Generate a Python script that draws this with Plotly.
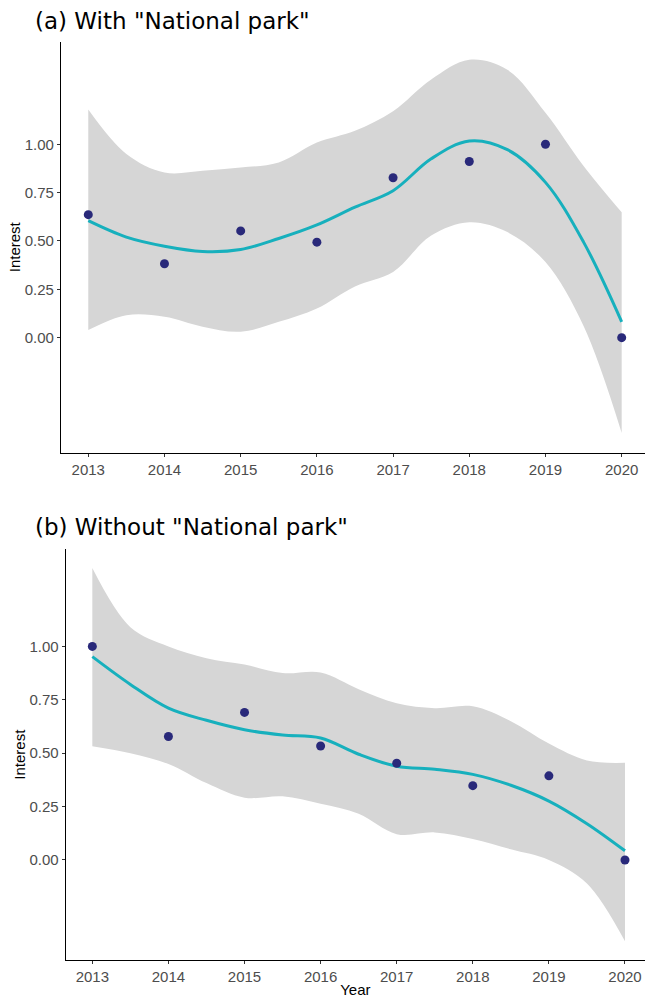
import plotly.graph_objects as go

# ---------------- data ----------------
years = [2013, 2014, 2015, 2016, 2017, 2018, 2019, 2020]
smooth_x = [2013, 2013.5, 2014, 2014.5, 2015, 2015.5, 2016, 2016.5,
            2017, 2017.5, 2018, 2018.5, 2019, 2019.5, 2020]

# (a) With "National park"
a_points = [0.636, 0.382, 0.552, 0.494, 0.827, 0.911, 1.0, 0.0]
a_fit = [0.605, 0.52, 0.473, 0.446, 0.456, 0.513, 0.583, 0.675,
         0.76, 0.925, 1.017, 0.972, 0.803, 0.494, 0.082]
a_upper = [1.18, 0.95, 0.854, 0.863, 0.88, 0.906, 1.009, 1.07,
           1.171, 1.335, 1.437, 1.385, 1.163, 0.888, 0.648]
a_lower = [0.039, 0.116, 0.108, 0.057, 0.031, 0.082, 0.151, 0.265,
           0.34, 0.528, 0.597, 0.546, 0.391, 0.06, -0.493]

# (b) Without "National park"
b_points = [1.0, 0.578, 0.691, 0.534, 0.453, 0.348, 0.394, 0.0]
b_fit = [0.952, 0.822, 0.711, 0.654, 0.610, 0.585, 0.571, 0.495,
         0.439, 0.425, 0.401, 0.35, 0.276, 0.17, 0.043]
b_upper = [1.367, 1.09, 1.0, 0.945, 0.915, 0.875, 0.878, 0.80,
           0.734, 0.711, 0.72, 0.65, 0.545, 0.466, 0.455]
b_lower = [0.533, 0.50, 0.45, 0.36, 0.292, 0.298, 0.263, 0.216,
           0.121, 0.129, 0.098, 0.05, 0.0, -0.11, -0.381]

y_ticks = [0, 0.25, 0.5, 0.75, 1.0]
y_ticktext = ["0.00", "0.25", "0.50", "0.75", "1.00"]
titles = ['(a) With "National park"', '(b) Without "National park"']

# ---------------- style ----------------
W, H = 645, 998
RIBBON = "#d6d6d6"
LINE = "#17b0bd"
POINT = "#29297a"

fig = go.Figure()


def add_panel(fig, xa, ya, points, fit, upper, lower):
    fig.add_trace(go.Scatter(x=smooth_x, y=upper, mode="lines",
                             line=dict(width=0, shape="spline", color=RIBBON),
                             hoverinfo="skip", showlegend=False,
                             xaxis=xa, yaxis=ya))
    fig.add_trace(go.Scatter(x=smooth_x, y=lower, mode="lines",
                             line=dict(width=0, shape="spline", color=RIBBON),
                             fill="tonexty", fillcolor=RIBBON,
                             hoverinfo="skip", showlegend=False,
                             xaxis=xa, yaxis=ya))
    fig.add_trace(go.Scatter(x=smooth_x, y=fit, mode="lines",
                             line=dict(width=3, shape="spline", color=LINE),
                             showlegend=False, xaxis=xa, yaxis=ya))
    fig.add_trace(go.Scatter(x=years, y=points, mode="markers",
                             marker=dict(size=9, color=POINT),
                             showlegend=False, xaxis=xa, yaxis=ya))


add_panel(fig, "x", "y", a_points, a_fit, a_upper, a_lower)
add_panel(fig, "x2", "y2", b_points, b_fit, b_upper, b_lower)

tickfont = dict(family="Liberation Sans, Arial, sans-serif", size=15, color="#4d4d4d")
titlefont = dict(family="Liberation Sans, Arial, sans-serif", size=15, color="#000000")

common_x = dict(showline=True, linecolor="black", linewidth=1.1, ticks="outside",
                ticklen=3, tickcolor="#333333", tickwidth=1, showgrid=False,
                zeroline=False, tickvals=years, tickfont=tickfont)
common_y = dict(showline=True, linecolor="black", linewidth=1.1, ticks="outside",
                ticklen=3, tickcolor="#333333", tickwidth=1, showgrid=False,
                zeroline=False, tickvals=y_ticks, ticktext=y_ticktext,
                tickfont=tickfont)


def px_x(p):
    return p / W


def px_y(p):
    return (H - p) / H


fig.update_layout(
    width=W, height=H,
    margin=dict(l=0, r=0, t=0, b=0),
    paper_bgcolor="white", plot_bgcolor="white",
    xaxis=dict(common_x, domain=[px_x(61), 1], range=[2012.642, 2020.306], anchor="y"),
    yaxis=dict(common_y, domain=[px_y(455), px_y(42)], range=[-0.595, 1.530], anchor="x",
               title=dict(text="Interest", font=titlefont, standoff=0)),
    xaxis2=dict(common_x, domain=[px_x(65.7), 1], range=[2012.65, 2020.263], anchor="y2",
                title=dict(text="Year", font=titlefont, standoff=2)),
    yaxis2=dict(common_y, domain=[px_y(965), px_y(552)], range=[-0.469, 1.455], anchor="x2",
                title=dict(text="Interest", font=titlefont, standoff=0)),
    annotations=[
        dict(text=titles[0], xref="paper", yref="paper", x=px_x(33), y=px_y(21.5),
             xanchor="left", yanchor="middle", showarrow=False,
             font=dict(family="DejaVu Sans", size=23, color="black")),
        dict(text=titles[1], xref="paper", yref="paper", x=px_x(33), y=px_y(530),
             xanchor="left", yanchor="middle", showarrow=False,
             font=dict(family="DejaVu Sans", size=23, color="black")),
    ],
)

fig.write_html("out.html",
               config={"displayModeBar": False},
               post_script="document.body.style.margin='0';document.body.style.overflow='hidden';")
